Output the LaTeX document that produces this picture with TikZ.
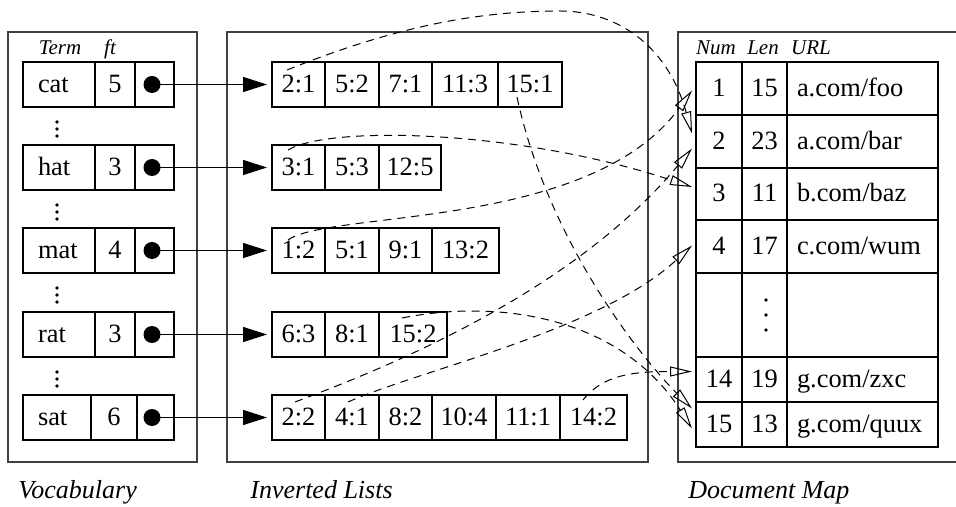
\documentclass[tikz,border=0pt]{standalone}
\usepackage{fontspec}
\setmainfont{Liberation Serif}
\usetikzlibrary{arrows.meta}
\tikzset{cell/.style={draw,line width=0.6pt,inner sep=0,outer sep=0,minimum height=22.5pt,
    text height=9pt,text depth=1pt,font=\fontsize{13.2}{15}\selectfont},
  frame/.style={draw=black!75,line width=0.8pt},
  bullet/.style={circle,fill,inner sep=0,minimum size=8.5pt},
  ptr/.style={line width=0.6pt,-{Triangle[length=12pt,width=7.5pt]},shorten >=2.5pt},
  docref/.style={line width=0.5pt,dash pattern=on 4pt off 3pt,-{Triangle[open,length=11pt,width=5pt]}},
  hdr/.style={font=\fontsize{10.5}{12}\selectfont\itshape,anchor=base,inner sep=0},
  boxtitle/.style={font=\fontsize{13}{15}\selectfont\itshape,anchor=base west,inner sep=0}}

\begin{document}
\begin{tikzpicture}[x=0.5pt,y=-0.5pt]
 \useasboundingbox (0,0) rectangle (956,507);
 % the three boxes
 \draw[frame] (8,32) rectangle (197,462);
 \draw[frame] (227,32) rectangle (648,462);
 \draw[frame] (956,32) -- (678,32) -- (678,462) -- (956,462);

 % vocabulary
 \node[hdr] (term) at (60,55) {Term};
 \node[hdr] (ft) at (110,55) {ft};
 \foreach \nm/\f/\y/\a/\b/\tw in {cat/5/84.5/95/135/21pt, hat/3/167.5/95/135/21pt,
     mat/4/250.5/95/135/21pt, rat/3/334.5/95/135/21pt, sat/6/417.5/91/137/19pt}{
   \node[cell,inner xsep=7.5pt,text width=\tw,align=left] (\nm-t) at ({(23+\a)/2},\y) {\nm};
   \node[cell,minimum width={(\b-\a)*0.5pt}] (\nm-f) at ({(\a+\b)/2},\y) {\f};
   \node[cell,minimum width={(174-\b)*0.5pt}] (\nm-p) at ({(\b+174)/2},\y) {};
   \node[bullet] (\nm-d) at (152,\y) {};
 }
 \foreach \b in {107,190,273,357}
   \foreach \k in {15,22,29}
     \fill (57,{\b+\k}) circle (0.9pt);

 % inverted lists
 \foreach \nm/\y/\cells in {cat/84.5/{2:1/272/325,5:2/325/379,7:1/379/432,11:3/432/498,15:1/498/562},
     hat/167.5/{3:1/272/325,5:3/325/379,12:5/379/441},
     mat/250.5/{1:2/272/325,5:1/325/379,9:1/379/432,13:2/432/499},
     rat/334.5/{6:3/272/325,8:1/325/379,15:2/379/447},
     sat/417.5/{2:2/272/325,4:1/325/379,8:2/379/432,10:4/432/496,11:1/496/560,14:2/560/627}}
   \foreach \lab/\a/\b [count=\i] in \cells
     \node[cell,minimum width={(\b-\a)*0.5pt}] (\nm\i) at ({(\a+\b)/2},\y) {\lab};
 \foreach \nm in {cat,hat,mat,rat,sat}
   \draw[ptr] (\nm-d.center) -- (\nm1.west);

 % document map
 \node[hdr] (num) at (716,55) {Num};
 \node[hdr] (len) at (763,55) {Len};
 \node[hdr] (url) at (811,55) {URL};
 \foreach \id/\len/\addr/\y/\h in {1/15/{a.com/foo}/88.5/26.5pt, 2/23/{a.com/bar}/141.5/26.5pt,
     3/11/{b.com/baz}/194/26pt, 4/17/{c.com/wum}/246.5/26.5pt, dd//{}/315/42pt,
     14/19/{g.com/zxc}/379.5/22.5pt, 15/13/{g.com/quux}/424.5/22.5pt}{
   \node[cell,minimum width=23pt,minimum height=\h] (d\id-a) at (719,\y) {\ifx\len\empty\else\id\fi};
   \node[cell,minimum width=22.5pt,minimum height=\h] (d\id-b) at (764.5,\y) {\len};
   \node[cell,minimum height=\h,inner xsep=5pt,text width=65.5pt,align=left] (d\id-c) at (862.5,\y) {\addr};
 }
 \foreach \y in {300,315,330}
   \fill (766,\y) circle (0.9pt);

 % postings to documents
 \draw[docref] ([shift={(15,8)}]cat1.north west) .. controls +(100,-40) and +(-90,0) .. (560,11)
   .. controls +(55,0) and +(-25,-90) .. ([shift={(-4,-8)}]d2-a.west);
 \draw[docref] ([shift={(16,5)}]hat1.north west) .. controls +(42,-25) and +(-172,-57) .. ([shift={(-4,-7)}]d3-a.west);
 \draw[docref] ([shift={(16,12)}]mat1.north west) .. controls +(42,-30) and +(-102,140) .. ([shift={(-4,2)}]d1-a.west);
 \draw[docref] ([shift={(23,7)}]sat1.north west) .. controls +(85,-32) and +(-122,147) .. ([shift={(-4,7)}]d2-a.west);
 \draw[docref] ([shift={(23,7)}]sat2.north west) .. controls +(72,-32) and +(-92,85) .. ([shift={(-4,-1)}]d4-a.west);
 \draw[docref] ([shift={(19,35)}]cat5.north west) .. controls +(30,140) and +(-55,-55) .. ([shift={(-4,-16)}]d15-a.west);
 \draw[docref] ([shift={(23,6)}]rat3.north west) .. controls +(100,-20) and +(-70,-110) .. ([shift={(-4,4)}]d15-a.west);
 \draw[docref] ([shift={(23,5)}]sat6.north west) .. controls +(20,-25) and +(-60,0) .. ([shift={(-4,-8)}]d14-a.west);

 % captions
 \node[boxtitle] (voc) at (18,498) {Vocabulary};
 \node[boxtitle] (inv) at (250,498) {Inverted Lists};
 \node[boxtitle] (dmap) at (688,498) {Document Map};
\end{tikzpicture}
\end{document}
